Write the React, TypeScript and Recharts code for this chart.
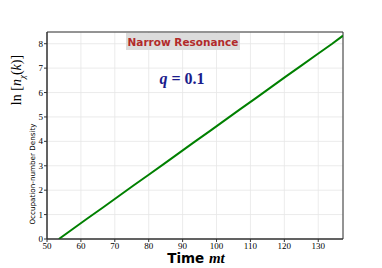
import { LineChart, Line, XAxis, YAxis, CartesianGrid, ReferenceArea } from 'recharts';

// time (mt) and ln n_chi(k)
const times = [53.5, 57.5, 62, 66.5, 71, 75.5, 80, 84.5, 89, 93.5, 98, 102.5, 107, 111.5, 116, 120.5, 125, 129.5, 134, 137.3];
const lnN = [0, 0.4, 0.85, 1.29, 1.74, 2.19, 2.63, 3.08, 3.53, 3.98, 4.42, 4.87, 5.32, 5.76, 6.21, 6.66, 7.1, 7.55, 7.99, 8.33];
const xTicks = [50, 60, 70, 80, 90, 100, 110, 120, 130];
const yTicks = [0, 1, 2, 3, 4, 5, 6, 7, 8];

const data = times.map((t, i) => ({ t, v: lnN[i] }));

const serif = '"Liberation Serif", "DejaVu Serif", serif';

function XTick(props: any) {
  const { x, y, payload } = props;
  return (
    <text x={x} y={y + 7} textAnchor="middle" fontSize={9} fontFamily={serif} fill="#000">
      {payload.value}
    </text>
  );
}

function YTick(props: any) {
  const { x, y, payload } = props;
  return (
    <text x={x - 1} y={y + 3} textAnchor="end" fontSize={9} fontFamily={serif} fill="#000">
      {payload.value}
    </text>
  );
}

export default function App() {
  return (
    <div style={{ position: 'absolute', left: 0, top: 0, width: 382, height: 268, background: '#fff' }}>
      <LineChart width={382} height={268} data={data} margin={{ top: 32, right: 39, left: 27, bottom: 17 }}>
        <CartesianGrid stroke="#e6e6e6" strokeWidth={0.8} />
        <XAxis
          dataKey="t"
          type="number"
          domain={[50, 137.3]}
          ticks={xTicks}
          allowDataOverflow
          height={12}
          tick={<XTick />}
          tickSize={3}
          tickMargin={0}
          axisLine={{ stroke: '#333' }}
          tickLine={{ stroke: '#333' }}
        />
        <YAxis
          type="number"
          domain={[0, 8.48]}
          ticks={yTicks}
          allowDataOverflow
          width={20}
          tick={<YTick />}
          tickSize={3}
          tickMargin={0}
          axisLine={{ stroke: '#333' }}
          tickLine={{ stroke: '#333' }}
        />
        <ReferenceArea x1={50} x2={137.3} y1={0} y2={8.48} fill="none" stroke="#333" strokeWidth={1} />
        <Line
          dataKey="v"
          stroke="#008000"
          strokeWidth={2}
          dot={false}
          isAnimationActive={false}
        />
      </LineChart>

      <div style={{
        position: 'absolute', left: 126, top: 33, width: 114, height: 17, background: '#dcdcdc',
        color: '#b22a2a', fontFamily: '"DejaVu Sans", sans-serif', fontWeight: 'bold', fontSize: 10.5,
        display: 'flex', alignItems: 'center', justifyContent: 'center', whiteSpace: 'nowrap'
      }}>Narrow Resonance</div>

      <div style={{
        position: 'absolute', left: 132, top: 71, width: 100, textAlign: 'center', color: '#1c1c8c',
        fontFamily: serif, fontWeight: 'bold', fontSize: 16, lineHeight: 1, whiteSpace: 'nowrap'
      }}><i>q</i> = 0.1</div>

      <div style={{
        position: 'absolute', left: 18, top: 80, transform: 'translate(-50%, -50%) rotate(-90deg)',
        fontFamily: serif, fontSize: 14, whiteSpace: 'nowrap', color: '#000'
      }}>ln [<i>n</i><sub style={{ fontSize: 9 }}><i>χ</i></sub>(<i>k</i>)]</div>

      <div style={{
        position: 'absolute', left: 32, top: 174, transform: 'translate(-50%, -50%) rotate(-90deg)',
        fontFamily: '"DejaVu Sans", sans-serif', fontSize: 7.2, whiteSpace: 'nowrap', color: '#000'
      }}>Occupation-number Density</div>

      <div style={{
        position: 'absolute', left: 146, top: 250, width: 100, textAlign: 'center', color: '#000',
        whiteSpace: 'nowrap', lineHeight: 1
      }}>
        <span style={{ fontFamily: '"DejaVu Sans", sans-serif', fontWeight: 'bold', fontSize: 13.5 }}>Time </span>
        <span style={{ fontFamily: serif, fontStyle: 'italic', fontWeight: 'bold', fontSize: 15 }}>mt</span>
      </div>
    </div>
  );
}
